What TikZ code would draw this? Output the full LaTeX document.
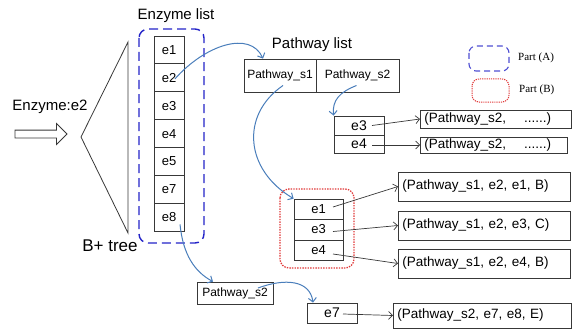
\documentclass[tikz,border=0pt]{standalone}
\usepackage{fontspec}
\setmainfont{Liberation Sans}
\newfontfamily\legendfont{Liberation Serif}
\usetikzlibrary{arrows.meta,shapes.arrows}
\definecolor{linkblue}{HTML}{4A7EBB}
\definecolor{partblue}{HTML}{2323C8}
\definecolor{partred}{HTML}{E03838}
\definecolor{cellgray}{HTML}{383838}

\begin{document}
\begin{tikzpicture}[x=1pt,y=-1pt,
  cell/.style={draw=cellgray, line width=0.8pt, inner sep=0pt, font=\fontsize{13}{15}\selectfont},
  result/.style={draw=cellgray, line width=0.8pt, anchor=west, inner xsep=4pt, inner ysep=1pt,
    align=left, text width=#1, font=\fontsize{13.5}{15}\selectfont},
  headtext/.style={font=\fontsize{15}{17}\selectfont},
  link/.style={linkblue, line width=1pt, -{Straight Barb[length=4pt,width=8pt]}},
  pointer/.style={cellgray, line width=0.7pt, -{Straight Barb[length=4pt,width=8pt]}}]
\useasboundingbox (0,0) rectangle (573,329);

% Query and B+ tree
\node[headtext] (query) at (50,107) {Enzyme:e2};
\node[draw=cellgray, line width=0.8pt, single arrow, single arrow head extend=6.5pt,
  inner sep=3.5pt, minimum height=52pt] (inarrow) at (39,134) {};
\draw[cellgray, line width=0.8pt] (128,42) -- (81,137) -- (128,233) -- cycle;
\node[font=\fontsize{17}{19}\selectfont] (bptree) at (110,246) {B+ tree};

% Enzyme list, Part (A)
\node[headtext] (enzlist) at (176,16) {Enzyme list};
\foreach \e [count=\i] in {1,2,3,4,5,7,8}
  \node[cell, minimum width=30pt, minimum height=27.9pt] (enz\e) at (169,{36+27.9*(\i-0.5)}) {e\e};
\draw[partblue, line width=1.4pt, dash pattern=on 9pt off 5pt, rounded corners=9pt] (139,29) rectangle (204,243);

% Pathway list
\node[headtext] (pathlist) at (312,45) {Pathway list};
\node[cell, font=\fontsize{12}{14}\selectfont, minimum width=72pt, minimum height=33pt] (ps1) at (280,75.5) {Pathway\_s1};
\node[cell, font=\fontsize{12}{14}\selectfont, minimum width=83pt, minimum height=33pt] (ps2) at (357.5,75.5) {Pathway\_s2};

% Enzymes of Pathway_s2
\node[cell, font=\fontsize{14}{16}\selectfont, minimum width=50pt, minimum height=19pt] (up3) at (359,125.5) {e3};
\node[cell, font=\fontsize{14}{16}\selectfont, minimum width=50pt, minimum height=18pt] (up4) at (359,144) {e4};
\node[result=143pt, minimum height=18pt] (r1) at (420,119) {(Pathway\_s2,~~~~......)};
\node[result=139pt, minimum height=16pt] (r2) at (420,145) {(Pathway\_s2,~~~~......)};

% Enzymes of Pathway_s1, Part (B)
\node[cell, minimum width=49pt, minimum height=20pt] (low1) at (318.5,209) {e1};
\node[cell, minimum width=49pt, minimum height=21pt] (low3) at (318.5,229.5) {e3};
\node[cell, minimum width=49pt, minimum height=20pt] (low4) at (318.5,250) {e4};
\draw[partred, line width=1.3pt, dash pattern=on 1.4pt off 1.2pt, rounded corners=9pt] (280,189) rectangle (354,268);
\node[result=164pt, minimum height=29pt] (rb1) at (398,186.5) {(Pathway\_s1, e2, e1, B)};
\node[result=164pt, minimum height=29pt] (rb2) at (398,225.5) {(Pathway\_s1, e2, e3, C)};
\node[result=164pt, minimum height=29pt] (rb3) at (398,263.5) {(Pathway\_s1, e2, e4, B)};

% Pathway of e8
\node[cell, font=\fontsize{12}{14}\selectfont, minimum width=76pt, minimum height=22pt] (lowps) at (235,293) {Pathway\_s2};
\node[cell, font=\fontsize{14}{16}\selectfont, minimum width=50pt, minimum height=20pt] (e7) at (332,313) {e7};
\node[result=170pt, minimum height=25pt] (re7) at (393,315.5) {(Pathway\_s2, e7, e8, E)};

% Links
\draw[link] ([shift={(6,1)}]enz2.center) .. controls (205,45) and (250,30) .. ([xshift=-17pt]ps1.north);
\draw[link] ([shift={(3,10)}]ps1.center) .. controls (240,115) and (245,170) .. (low1.north west);
\draw[link] ([shift={(-1,10)}]ps2.center) .. controls (340,92) and (332,100) .. (up3.north west);
\draw[link] ([shift={(11,7)}]enz8.center) .. controls (183,255) and (195,272) .. ([xshift=-22pt]lowps.north);
\draw[link] ([shift={(23,-5)}]lowps.center) .. controls (285,278) and (310,280) .. ([xshift=-19pt]e7.north);

% Pointers to entries
\draw[pointer] ([shift={(13,0)}]up3.center) -- (r1.west);
\draw[pointer] ([shift={(13,1)}]up4.center) -- (r2.west);
\draw[pointer] ([shift={(14.5,-2)}]low1.center) -- (rb1.west);
\draw[pointer] ([shift={(14.5,2)}]low3.center) -- (rb2.west);
\draw[pointer] ([shift={(14.5,4)}]low4.center) -- (rb3.west);
\draw[pointer] ([shift={(11,1)}]e7.center) -- (re7.west);

% Legend
\draw[partblue!80, line width=1.1pt, dash pattern=on 6pt off 4pt, rounded corners=7pt] (469,46) rectangle (509,71);
\draw[partred, line width=1pt, dash pattern=on 1.2pt off 1pt, rounded corners=7pt] (472,79) rectangle (509,102);
\node[anchor=west, inner sep=0pt, font=\legendfont\fontsize{11}{13}\selectfont] (legA) at (518,58) {Part (A)};
\node[anchor=west, inner sep=0pt, font=\legendfont\fontsize{11}{13}\selectfont] (legB) at (519,90) {Part (B)};
\end{tikzpicture}
\end{document}
